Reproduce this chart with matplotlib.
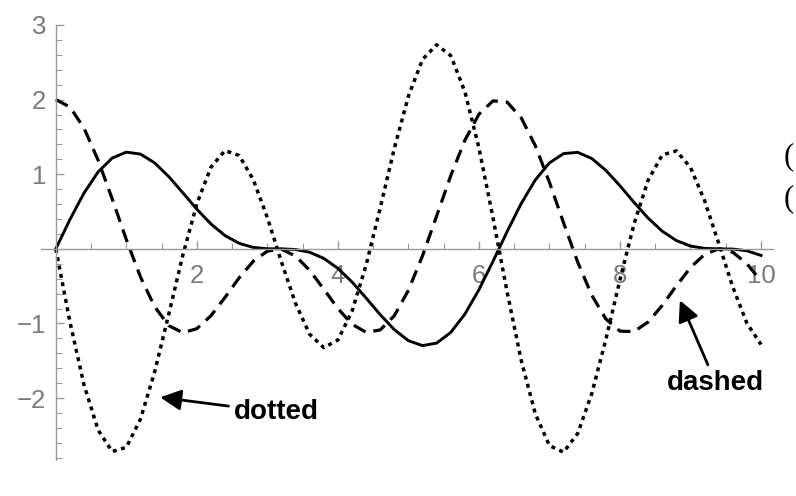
import numpy as np
import matplotlib
matplotlib.use("Agg")
import matplotlib.pyplot as plt
from matplotlib.ticker import MultipleLocator, FixedLocator

# values, x step 0.2
x = [0.0, 0.2, 0.4, 0.6, 0.8, 1.0, 1.2, 1.4, 1.6, 1.8,
     2.0, 2.2, 2.4, 2.6, 2.8, 3.0, 3.2, 3.4, 3.6, 3.8,
     4.0, 4.2, 4.4, 4.6, 4.8, 5.0, 5.2, 5.4, 5.6, 5.8,
     6.0, 6.2, 6.4, 6.6, 6.8, 7.0, 7.2, 7.4, 7.6, 7.8,
     8.0, 8.2, 8.4, 8.6, 8.8, 9.0, 9.2, 9.4, 9.6, 9.8, 10.0]

solid = [0.000, 0.393, 0.748, 1.031, 1.217, 1.296, 1.270, 1.153, 0.970, 0.753,
         0.531, 0.333, 0.177, 0.074, 0.019, 0.001, 0.000, -0.009, -0.046, -0.128,
         -0.262, -0.444, -0.659, -0.882, -1.083, -1.231, -1.297, -1.263, -1.121, -0.876,
         -0.548, -0.166, 0.232, 0.608, 0.924, 1.152, 1.277, 1.293, 1.211, 1.052,
         0.845, 0.622, 0.411, 0.236, 0.111, 0.037, 0.006, 0.000, -0.003, -0.026, -0.088]

dashed = [2.000, 1.901, 1.618, 1.188, 0.668, 0.124, -0.375, -0.772, -1.028, -1.124,
          -1.070, -0.896, -0.650, -0.388, -0.167, -0.030, -0.005, -0.097, -0.288, -0.540,
          -0.799, -1.010, -1.118, -1.087, -0.897, -0.555, -0.093, 0.440, 0.979, 1.454,
          1.804, 1.983, 1.966, 1.756, 1.381, 0.891, 0.349, -0.177, -0.622, -0.940,
          -1.103, -1.109, -0.980, -0.757, -0.495, -0.251, -0.074, -0.001, -0.045, -0.199, -0.431]

dotted = [0.000, -0.978, -1.824, -2.429, -2.717, -2.660, -2.283, -1.656, -0.883, -0.089,
          0.604, 1.095, 1.317, 1.251, 0.928, 0.418, -0.175, -0.733, -1.145, -1.324,
          -1.222, -0.838, -0.218, 0.548, 1.345, 2.047, 2.539, 2.735, 2.590, 2.110,
          1.353, 0.414, -0.579, -1.495, -2.212, -2.638, -2.725, -2.475, -1.941, -1.214,
          -0.414, 0.336, 0.921, 1.259, 1.313, 1.090, 0.646, 0.074, -0.512, -0.998, -1.282]

x_labels = [2, 4, 6, 8, 10]
y_labels = [-2, -1, 1, 2, 3]

axis_gray = "#9a9a9a"
label_gray = "#777a80"

fig = plt.figure(figsize=(7.96, 4.96), dpi=100)
ax = fig.add_axes([41 / 796, 36 / 496, 732 / 796, 435 / 496])

ax.plot(x, dotted, color="black", lw=2.5, linestyle=(0, (1.15, 1.3)),
        dash_capstyle="butt")
ax.plot(x, dashed, color="black", lw=2.3, linestyle=(0, (4.2, 2.5)),
        dash_capstyle="butt")
ax.plot(x, solid, color="black", lw=2.1, solid_joinstyle="round")

ax.set_xlim(-0.21, 10.17)
ax.set_ylim(-2.83, 3.0)

for side in ["top", "right"]:
    ax.spines[side].set_visible(False)
ax.spines["left"].set_position(("data", 0))
ax.spines["bottom"].set_position(("data", 0))
for side in ["left", "bottom"]:
    ax.spines[side].set_color(axis_gray)
    ax.spines[side].set_linewidth(1.0)

ax.xaxis.set_major_locator(FixedLocator(x_labels))
ax.xaxis.set_minor_locator(MultipleLocator(0.5))
ax.yaxis.set_major_locator(FixedLocator(y_labels))
ax.yaxis.set_minor_locator(MultipleLocator(0.2))

ax.tick_params(axis="both", which="major", direction="in", color=axis_gray,
               labelcolor=label_gray, labelsize=18.5, width=1.0, length=6)
ax.tick_params(axis="both", which="minor", direction="in", color=axis_gray,
               width=0.8, length=4)
ax.tick_params(axis="x", which="major", pad=11)
ax.tick_params(axis="y", which="major", pad=7)
ax.set_xticklabels([str(v) for v in x_labels], family="Liberation Sans")
ax.set_yticklabels(["\u2212" + str(-v) if v < 0 else str(v) for v in y_labels],
                   family="Liberation Sans")

arrow = dict(arrowstyle="-|>,head_length=0.7,head_width=0.35", color="black",
             lw=2.0, shrinkA=2, shrinkB=0, mutation_scale=18)
ax.annotate("dotted", xy=(1.48, -1.99), xytext=(3.13, -2.19),
            ha="center", va="center", fontsize=20, fontweight="bold",
            family="Liberation Sans", arrowprops=arrow)
ax.annotate("dashed", xy=(8.85, -0.69), xytext=(9.36, -1.80),
            ha="center", va="center", fontsize=20, fontweight="bold",
            family="Liberation Sans", arrowprops=arrow)

# text from the page at the right edge
fig.text(794 / 796, 1 - 157 / 496, "(", fontsize=22, family="Liberation Serif",
         ha="right", va="center")
fig.text(794 / 796, 1 - 199 / 496, "(", fontsize=22, family="Liberation Serif",
         ha="right", va="center")

fig.savefig("out.png", dpi=100)
